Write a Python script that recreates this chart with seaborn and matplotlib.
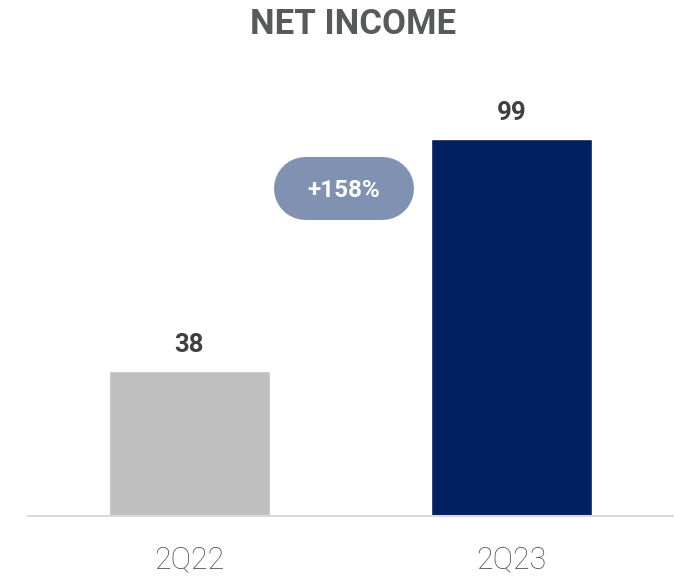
import matplotlib
matplotlib.use("Agg")
import matplotlib.pyplot as plt
from matplotlib.lines import Line2D
from matplotlib.transforms import ScaledTranslation
import seaborn as sns
import pandas as pd

# Net income by quarter
periods = ["2Q22", "2Q23"]
net_income = [38, 99]
bar_colors = ["#BFBFBF", "#002060"]
growth_label = "+158%"

sns.set_theme(style="white")
plt.rcParams["font.family"] = ["Roboto", "DejaVu Sans"]

df = pd.DataFrame({"period": periods, "value": net_income})

fig = plt.figure(figsize=(6.82, 5.77), dpi=100)
ax = fig.add_axes([0.041, 0.1057, 0.946, 0.7263])

sns.barplot(data=df, x="period", y="value", hue="period", palette=bar_colors,
            width=0.5, legend=False, ax=ax, saturation=1)

ax.set_xlim(-0.5, 1.5)
ax.set_ylim(0, 110)
ax.set_xlabel("")
ax.set_ylabel("")
ax.set_yticks([])
for side in ["top", "right", "left"]:
    ax.spines[side].set_visible(False)
ax.spines["bottom"].set_color("#D9D9D9")
ax.spines["bottom"].set_linewidth(1.5)
ax.tick_params(axis="x", length=0, pad=21, labelsize=22, labelcolor="#505050")
for lbl in ax.get_xticklabels():
    lbl.set_fontweight("light")

# value labels above bars
for i, v in enumerate(net_income):
    ax.annotate(f"{v}", xy=(i, v), xytext=(0, 10), textcoords="offset points",
                ha="center", va="bottom", fontsize=18.5, fontweight="bold",
                color="#404040")

# growth pill between the bars: a thick line with round caps
cx, cy = 0.478, 86.2
pill_tr = fig.dpi_scale_trans + ScaledTranslation(cx, cy, ax.transData)
pill = Line2D([-0.385, 0.385], [0, 0], transform=pill_tr,
              linewidth=63 * 0.72, color="#8091B1",
              solid_capstyle="round", clip_on=False)
ax.add_line(pill)
ax.text(cx, cy, growth_label, ha="center", va="center_baseline",
        fontsize=17.5, fontweight="bold", color="white")

fig.text(0.517, 0.958, "NET INCOME", ha="center", va="center",
         fontsize=25, fontweight="bold", color="#58595B")

fig.savefig("out.png", dpi=100)
